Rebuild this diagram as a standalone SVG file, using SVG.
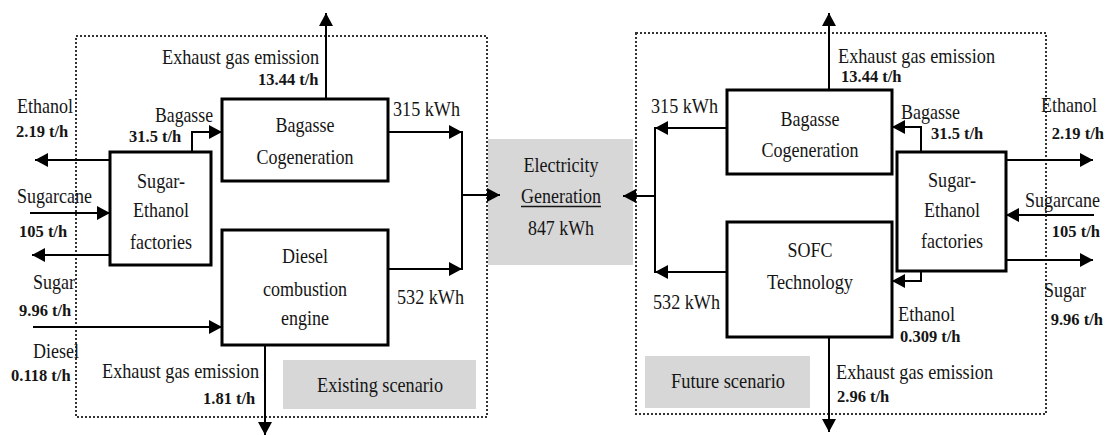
<svg xmlns="http://www.w3.org/2000/svg" width="1106" height="435" viewBox="0 0 1106 435">
<style>
.t{font-family:"Liberation Serif","Times New Roman","DejaVu Serif",serif;font-size:22px;fill:#151515}
.b{font-family:"Liberation Serif","Times New Roman","DejaVu Serif",serif;font-size:16.5px;font-weight:bold;fill:#151515}
.c{text-anchor:middle}
.e{text-anchor:end}
.box{fill:#fff;stroke:#000;stroke-width:3}
.ln{fill:none;stroke:#000;stroke-width:2}
.ar{fill:none;stroke:#000;stroke-width:2;marker-end:url(#ah)}
.dot{fill:none;stroke:#333;stroke-width:2;stroke-dasharray:2 2}
.gray{fill:#d7d7d7}
</style>
<defs>
<marker id="ah" markerUnits="userSpaceOnUse" markerWidth="14" markerHeight="16" refX="13" refY="7" orient="auto">
<path d="M0,0 L13,7 L0,14 Z" fill="#000"/>
</marker>
</defs>
<rect width="1106" height="435" fill="#fff"/>

<g id="frames">
<rect class="dot" x="76" y="36" width="411" height="381"/>
<rect class="dot" x="636" y="33" width="410" height="381"/>
</g>

<g id="electricity">
<rect class="gray" x="488" y="139" width="145" height="126"/>
<text class="t c" x="561" y="172" textLength="75" lengthAdjust="spacingAndGlyphs">Electricity</text>
<text class="t c" x="561" y="203" textLength="80" lengthAdjust="spacingAndGlyphs">Generation</text>
<line x1="521" y1="206.5" x2="601" y2="206.5" stroke="#151515" stroke-width="1.5"/>
<text class="t c" x="561" y="235" textLength="66" lengthAdjust="spacingAndGlyphs">847 kWh</text>
</g>

<g id="existing-label">
<rect class="gray" x="283" y="360" width="193" height="49"/>
<text class="t" x="317" y="392" textLength="126" lengthAdjust="spacingAndGlyphs">Existing scenario</text>
</g>
<g id="future-label">
<rect class="gray" x="645" y="356" width="165" height="52"/>
<text class="t" x="671" y="388" textLength="114" lengthAdjust="spacingAndGlyphs">Future scenario</text>
</g>

<g id="connectors">
<line class="ar" x1="326" y1="99" x2="326" y2="13"/>
<line class="ar" x1="265" y1="345" x2="265" y2="435"/>
<line class="ar" x1="110" y1="160" x2="35" y2="160"/>
<line class="ar" x1="30" y1="213" x2="110" y2="213"/>
<line class="ar" x1="110" y1="255" x2="32" y2="255"/>
<line class="ar" x1="33" y1="327" x2="222" y2="327"/>
<polyline class="ar" points="192,152 192,132 222,132"/>
<line class="ar" x1="388" y1="132" x2="462" y2="132"/>
<line class="ar" x1="388" y1="269" x2="462" y2="269"/>
<line class="ln" x1="462" y1="131" x2="462" y2="270"/>
<line class="ar" x1="462" y1="195" x2="500" y2="195"/>
<line class="ar" x1="829" y1="90" x2="829" y2="13"/>
<line class="ar" x1="829" y1="337" x2="829" y2="432"/>
<line class="ar" x1="727" y1="128" x2="655" y2="128"/>
<line class="ar" x1="727" y1="272" x2="655" y2="272"/>
<line class="ln" x1="655" y1="127" x2="655" y2="273"/>
<line class="ar" x1="655" y1="196" x2="623" y2="196"/>
<polyline class="ar" points="921,152 921,127 892,127"/>
<polyline class="ar" points="921,271 921,281 892,281"/>
<line class="ar" x1="1006" y1="160" x2="1093" y2="160"/>
<line class="ar" x1="1094" y1="215" x2="1006" y2="215"/>
<line class="ar" x1="1006" y1="260" x2="1093" y2="260"/>
</g>

<g id="left-bagasse-cogen">
<rect class="box" x="222" y="99" width="166" height="82"/>
<text class="t c" x="305" y="132" textLength="59" lengthAdjust="spacingAndGlyphs">Bagasse</text>
<text class="t c" x="305" y="164" textLength="97" lengthAdjust="spacingAndGlyphs">Cogeneration</text>
</g>
<g id="left-sugar-ethanol">
<rect class="box" x="110" y="152" width="101" height="113"/>
<text class="t c" x="161" y="188" textLength="48" lengthAdjust="spacingAndGlyphs">Sugar-</text>
<text class="t c" x="161" y="217" textLength="56" lengthAdjust="spacingAndGlyphs">Ethanol</text>
<text class="t c" x="161" y="249" textLength="62" lengthAdjust="spacingAndGlyphs">factories</text>
</g>
<g id="left-diesel">
<rect class="box" x="222" y="230" width="166" height="115"/>
<text class="t c" x="305" y="263" textLength="46" lengthAdjust="spacingAndGlyphs">Diesel</text>
<text class="t c" x="305" y="296" textLength="84" lengthAdjust="spacingAndGlyphs">combustion</text>
<text class="t c" x="305" y="325" textLength="48" lengthAdjust="spacingAndGlyphs">engine</text>
</g>

<g id="right-bagasse-cogen">
<rect class="box" x="727" y="90" width="165" height="84"/>
<text class="t c" x="810" y="126" textLength="59" lengthAdjust="spacingAndGlyphs">Bagasse</text>
<text class="t c" x="810" y="157" textLength="97" lengthAdjust="spacingAndGlyphs">Cogeneration</text>
</g>
<g id="right-sofc">
<rect class="box" x="727" y="222" width="165" height="115"/>
<text class="t c" x="810" y="257" textLength="45" lengthAdjust="spacingAndGlyphs">SOFC</text>
<text class="t c" x="810" y="289" textLength="86" lengthAdjust="spacingAndGlyphs">Technology</text>
</g>
<g id="right-sugar-ethanol">
<rect class="box" x="897" y="152" width="109" height="119"/>
<text class="t c" x="952" y="187" textLength="48" lengthAdjust="spacingAndGlyphs">Sugar-</text>
<text class="t c" x="952" y="217" textLength="56" lengthAdjust="spacingAndGlyphs">Ethanol</text>
<text class="t c" x="952" y="248" textLength="62" lengthAdjust="spacingAndGlyphs">factories</text>
</g>

<g id="labels-left">
<text class="t" x="162" y="64" textLength="157" lengthAdjust="spacingAndGlyphs">Exhaust gas emission</text>
<text class="b" x="258" y="85">13.44 t/h</text>
<text class="t" x="17" y="113" textLength="56" lengthAdjust="spacingAndGlyphs">Ethanol</text>
<text class="b" x="16" y="137">2.19 t/h</text>
<text class="t" x="155" y="122" textLength="58" lengthAdjust="spacingAndGlyphs">Bagasse</text>
<text class="b" x="129" y="142">31.5 t/h</text>
<text class="t" x="17" y="203" textLength="75" lengthAdjust="spacingAndGlyphs">Sugarcane</text>
<text class="b" x="19" y="237">105 t/h</text>
<text class="t" x="33" y="289" textLength="42" lengthAdjust="spacingAndGlyphs">Sugar</text>
<text class="b" x="19" y="316">9.96 t/h</text>
<text class="t" x="33" y="358" textLength="46" lengthAdjust="spacingAndGlyphs">Diesel</text>
<text class="b" x="11" y="381">0.118 t/h</text>
<text class="t" x="102" y="378" textLength="157" lengthAdjust="spacingAndGlyphs">Exhaust gas emission</text>
<text class="b" x="203" y="404">1.81 t/h</text>
<text class="t" x="393" y="116" textLength="67" lengthAdjust="spacingAndGlyphs">315 kWh</text>
<text class="t" x="397" y="304" textLength="67" lengthAdjust="spacingAndGlyphs">532 kWh</text>
</g>

<g id="labels-right">
<text class="t" x="838" y="63" textLength="157" lengthAdjust="spacingAndGlyphs">Exhaust gas emission</text>
<text class="b" x="841" y="82">13.44 t/h</text>
<text class="t" x="651" y="113" textLength="67" lengthAdjust="spacingAndGlyphs">315 kWh</text>
<text class="t" x="901" y="119" textLength="59" lengthAdjust="spacingAndGlyphs">Bagasse</text>
<text class="b" x="931" y="139">31.5 t/h</text>
<text class="t" transform="translate(1041 112) scale(0.82 1)" x="0" y="0">Ethanol</text>
<text class="b e" x="1104" y="139">2.19 t/h</text>
<text class="t" transform="translate(1025 207) scale(0.82 1)" x="0" y="0">Sugarcane</text>
<text class="b e" x="1100" y="237">105 t/h</text>
<text class="t e" x="1086" y="297" textLength="42" lengthAdjust="spacingAndGlyphs">Sugar</text>
<text class="b e" x="1103" y="325">9.96 t/h</text>
<text class="t" x="898" y="321" textLength="57" lengthAdjust="spacingAndGlyphs">Ethanol</text>
<text class="b" x="900" y="342">0.309 t/h</text>
<text class="t" x="836" y="379" textLength="157" lengthAdjust="spacingAndGlyphs">Exhaust gas emission</text>
<text class="b" x="837" y="402">2.96 t/h</text>
<text class="t" x="653" y="309" textLength="67" lengthAdjust="spacingAndGlyphs">532 kWh</text>
</g>
</svg>
